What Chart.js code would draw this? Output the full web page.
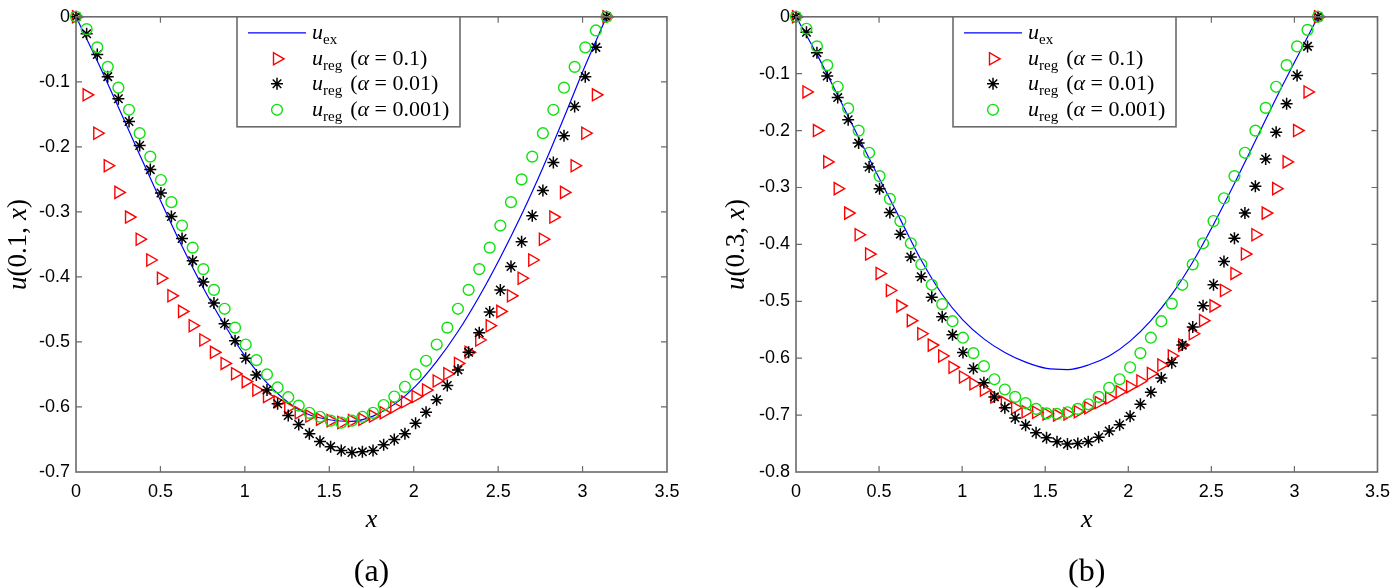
<!DOCTYPE html>
<html lang="en">
<head>
<meta charset="UTF-8">
<title>u_ex vs u_reg</title>
<script src="https://cdn.jsdelivr.net/npm/chart.js"></script>
<style>
  body { margin: 0; background: #fff; }
  canvas { position: absolute; top: 0; }
  #chartA { left: 0; }
  #chartB { left: 720px; }
</style>
</head>
<body>
<canvas id="chartA" width="720" height="588"></canvas>
<canvas id="chartB" width="679" height="588"></canvas>
<script>
// grid of x points (0 .. pi, step pi/50)
const xGrid = [0, 0.063, 0.126, 0.188, 0.251, 0.314, 0.377, 0.440, 0.503, 0.565,
  0.628, 0.691, 0.754, 0.817, 0.880, 0.942, 1.005, 1.068, 1.131, 1.194,
  1.257, 1.319, 1.382, 1.445, 1.508, 1.571, 1.634, 1.696, 1.759, 1.822,
  1.885, 1.948, 2.011, 2.073, 2.136, 2.199, 2.262, 2.325, 2.388, 2.450,
  2.513, 2.576, 2.639, 2.702, 2.765, 2.827, 2.890, 2.953, 3.016, 3.079, 3.142];
// x points for the exact solution line
const xLine = [0, 0.126, 0.251, 0.377, 0.503, 0.628, 0.754, 0.880, 1.005, 1.131,
  1.257, 1.382, 1.508, 1.634, 1.759, 1.885, 2.011, 2.136, 2.262, 2.388,
  2.513, 2.639, 2.765, 2.890, 3.016, 3.142];

const xTicks = [0, 0.5, 1, 1.5, 2, 2.5, 3, 3.5];
const xTickLabels = ['0', '0.5', '1', '1.5', '2', '2.5', '3', '3.5'];
const yTicksA = [-0.7, -0.6, -0.5, -0.4, -0.3, -0.2, -0.1, 0];
const yTickLabelsA = ['-0.7', '-0.6', '-0.5', '-0.4', '-0.3', '-0.2', '-0.1', '0'];
const yTicksB = [-0.8, -0.7, -0.6, -0.5, -0.4, -0.3, -0.2, -0.1, 0];
const yTickLabelsB = ['-0.8', '-0.7', '-0.6', '-0.5', '-0.4', '-0.3', '-0.2', '-0.1', '0'];

const seriesNames = ['u_ex', 'u_reg (α = 0.1)', 'u_reg (α = 0.01)', 'u_reg (α = 0.001)'];

// panel (a): t = 0.1
const exactA = [0, -0.068, -0.139, -0.212, -0.284, -0.353, -0.417, -0.474, -0.523, -0.563,
  -0.593, -0.612, -0.620, -0.622, -0.614, -0.596, -0.568, -0.530, -0.484, -0.430,
  -0.370, -0.304, -0.232, -0.155, -0.075, 0];
const regA1 = [0, -0.120, -0.179, -0.229, -0.270, -0.308, -0.342, -0.374, -0.402, -0.429,
  -0.453, -0.475, -0.497, -0.516, -0.533, -0.549, -0.561, -0.574, -0.584, -0.592,
  -0.601, -0.609, -0.614, -0.619, -0.621, -0.624, -0.621, -0.619, -0.614, -0.609,
  -0.600, -0.592, -0.584, -0.574, -0.560, -0.549, -0.533, -0.516, -0.497, -0.475,
  -0.453, -0.429, -0.402, -0.374, -0.342, -0.308, -0.270, -0.229, -0.179, -0.120, 0];
const regA2 = [0, -0.026, -0.058, -0.092, -0.126, -0.161, -0.198, -0.235, -0.271, -0.307,
  -0.341, -0.375, -0.408, -0.440, -0.472, -0.498, -0.525, -0.551, -0.574, -0.595,
  -0.613, -0.627, -0.641, -0.653, -0.661, -0.667, -0.670, -0.669, -0.667, -0.658,
  -0.650, -0.641, -0.625, -0.608, -0.589, -0.567, -0.543, -0.516, -0.486, -0.454,
  -0.420, -0.384, -0.346, -0.306, -0.267, -0.224, -0.183, -0.138, -0.092, -0.047, 0];
const regA3 = [0, -0.019, -0.047, -0.077, -0.109, -0.143, -0.179, -0.215, -0.251, -0.285,
  -0.321, -0.355, -0.388, -0.420, -0.449, -0.478, -0.504, -0.528, -0.550, -0.570,
  -0.585, -0.598, -0.609, -0.615, -0.621, -0.624, -0.621, -0.615, -0.609, -0.597,
  -0.584, -0.569, -0.550, -0.529, -0.504, -0.478, -0.449, -0.420, -0.388, -0.355,
  -0.321, -0.285, -0.250, -0.215, -0.179, -0.143, -0.109, -0.077, -0.047, -0.021, 0];

// panel (b): t = 0.3
const exactB = [0, -0.066, -0.138, -0.212, -0.285, -0.356, -0.428, -0.488, -0.533, -0.566,
  -0.590, -0.607, -0.618, -0.620, -0.612, -0.596, -0.570, -0.534, -0.488, -0.431,
  -0.365, -0.293, -0.218, -0.143, -0.071, 0];
const regB1 = [0, -0.132, -0.200, -0.255, -0.302, -0.345, -0.383, -0.417, -0.451, -0.481,
  -0.508, -0.534, -0.557, -0.577, -0.596, -0.616, -0.633, -0.645, -0.656, -0.668,
  -0.678, -0.687, -0.694, -0.695, -0.698, -0.700, -0.698, -0.694, -0.687, -0.678,
  -0.670, -0.659, -0.650, -0.640, -0.627, -0.612, -0.596, -0.577, -0.557, -0.534,
  -0.508, -0.481, -0.451, -0.417, -0.383, -0.345, -0.302, -0.255, -0.200, -0.132, 0];
const regB2 = [0, -0.027, -0.063, -0.104, -0.142, -0.181, -0.222, -0.264, -0.302, -0.344,
  -0.382, -0.422, -0.457, -0.493, -0.527, -0.559, -0.590, -0.618, -0.643, -0.668,
  -0.687, -0.705, -0.718, -0.731, -0.740, -0.747, -0.751, -0.750, -0.747, -0.739,
  -0.728, -0.717, -0.702, -0.681, -0.660, -0.635, -0.608, -0.577, -0.545, -0.508,
  -0.471, -0.430, -0.389, -0.345, -0.298, -0.250, -0.203, -0.153, -0.103, -0.052, 0];
const regB3 = [0, -0.021, -0.052, -0.085, -0.123, -0.161, -0.200, -0.239, -0.280, -0.320,
  -0.359, -0.398, -0.435, -0.471, -0.505, -0.535, -0.564, -0.591, -0.614, -0.637,
  -0.655, -0.668, -0.679, -0.689, -0.697, -0.698, -0.695, -0.689, -0.681, -0.668,
  -0.652, -0.637, -0.616, -0.591, -0.564, -0.535, -0.504, -0.471, -0.435, -0.398,
  -0.359, -0.319, -0.280, -0.239, -0.200, -0.160, -0.123, -0.085, -0.052, -0.023, 0];

const FRAME = '#6b6b6b';
const SERIF = '"Liberation Serif", "Times New Roman", serif';
const IT = 'italic 22px ' + SERIF;
const RM = '22px ' + SERIF;
const SUB = '15px ' + SERIF;

function pts(xs, ys) {
  return ys.map((y, i) => ({ x: xs[i], y: y }));
}

// draws a run of differently styled pieces of text, left to right
function drawRuns(ctx, runs, x, y) {
  runs.forEach(r => {
    ctx.font = r[1];
    ctx.fillText(r[0], x, y + (r[2] || 0));
    x += ctx.measureText(r[0]).width + (r[3] || 0);
  });
}
function runsWidth(ctx, runs) {
  let w = 0;
  runs.forEach(r => { ctx.font = r[1]; w += ctx.measureText(r[0]).width + (r[3] || 0); });
  return w;
}

function legendRuns(name) {
  const sub = name.slice(2).split(' ')[0];
  const rest = name.indexOf('(') >= 0 ? name.slice(name.indexOf('(')) : '';
  const runs = [['u', IT], [sub, SUB, 5, 8]];
  if (rest) {
    const val = rest.slice(rest.indexOf('=') + 1, -1).trim();
    runs.push(['(', RM], ['α', IT], [' = ' + val, RM], [')', RM]);
  }
  return runs;
}

const decor = {
  id: 'decor',
  afterDraw(chart, args, o) {
    const { ctx, chartArea: a, scales } = chart;
    ctx.save();

    // box + inward tick marks
    ctx.strokeStyle = FRAME;
    ctx.lineWidth = 1.6;
    ctx.strokeRect(a.left, a.top, a.right - a.left, a.bottom - a.top);
    ctx.lineWidth = 1.2;
    ctx.beginPath();
    xTicks.forEach(v => {
      const p = scales.x.getPixelForValue(v);
      if (p <= a.left + 1 || p >= a.right - 1) return;
      ctx.moveTo(p, a.bottom); ctx.lineTo(p, a.bottom - 6);
      ctx.moveTo(p, a.top); ctx.lineTo(p, a.top + 6);
    });
    o.yTicks.forEach(v => {
      const p = scales.y.getPixelForValue(v);
      if (p <= a.top + 1 || p >= a.bottom - 1) return;
      ctx.moveTo(a.left, p); ctx.lineTo(a.left + 6, p);
      ctx.moveTo(a.right, p); ctx.lineTo(a.right - 6, p);
    });
    ctx.stroke();

    // legend
    const lx = a.left + o.legendLeft, ly = a.top, lw = 223, lh = 110;
    ctx.fillStyle = '#fff';
    ctx.fillRect(lx, ly, lw, lh);
    ctx.strokeStyle = FRAME;
    ctx.lineWidth = 1.6;
    ctx.strokeRect(lx, ly, lw, lh);
    const rows = [16, 42, 67, 93];
    chart.data.datasets.forEach((ds, i) => {
      const ry = ly + rows[i];
      ctx.strokeStyle = ds.borderColor;
      ctx.fillStyle = 'rgba(0,0,0,0)';
      ctx.lineWidth = ds.borderWidth;
      if (ds.showLine) {
        ctx.beginPath();
        ctx.moveTo(lx + 11, ry); ctx.lineTo(lx + 69, ry);
        ctx.stroke();
      } else {
        Chart.helpers.drawPoint(ctx, {
          pointStyle: ds.pointStyle, rotation: ds.pointRotation || 0,
          radius: ds.pointRadius, borderWidth: ds.borderWidth
        }, lx + 40, ry);
      }
      ctx.fillStyle = '#000';
      ctx.textBaseline = 'alphabetic';
      drawRuns(ctx, legendRuns(ds.label), lx + 75, ry + 6);
    });

    // axis titles and caption
    const cx = (a.left + a.right) / 2;
    ctx.fillStyle = '#000';
    ctx.textBaseline = 'alphabetic';
    ctx.font = 'italic 26px ' + SERIF;
    ctx.textAlign = 'center';
    ctx.fillText('x', cx, 527);
    ctx.font = '32px ' + SERIF;
    ctx.fillText(o.caption, cx, 581);

    ctx.textAlign = 'left';
    const yl = [['u', 'italic 27px ' + SERIF], ['(' + o.tval + ',', '27px ' + SERIF, 0, 7], ['x', 'italic 27px ' + SERIF], [')', '27px ' + SERIF]];
    ctx.translate(o.ylabelX, (a.top + a.bottom) / 2);
    ctx.rotate(-Math.PI / 2);
    drawRuns(ctx, yl, -runsWidth(ctx, yl) / 2, 9);
    ctx.restore();
  }
};

function makeChart(id, exact, r1, r2, r3, yTicks, yLabels, o, padRight) {
  const ctx = document.getElementById(id).getContext('2d');
  return new Chart(ctx, {
    type: 'scatter',
    data: {
      datasets: [
        { label: seriesNames[0], data: pts(xLine, exact), showLine: true, borderColor: '#0000ff',
          borderWidth: 1.2, pointRadius: 0, cubicInterpolationMode: 'monotone', order: 4, clip: false },
        { label: seriesNames[1], data: pts(xGrid, r1), borderColor: '#ff0000', backgroundColor: 'rgba(0,0,0,0)',
          pointStyle: 'triangle', pointRotation: 90, pointRadius: 7, borderWidth: 1.4, order: 3, clip: false },
        { label: seriesNames[2], data: pts(xGrid, r2), borderColor: '#000000', backgroundColor: 'rgba(0,0,0,0)',
          pointStyle: 'star', pointRadius: 6, borderWidth: 1.5, order: 2, clip: false },
        { label: seriesNames[3], data: pts(xGrid, r3), borderColor: '#11e011', backgroundColor: 'rgba(0,0,0,0)',
          pointStyle: 'circle', pointRadius: 5.4, borderWidth: 1.4, order: 1, clip: false }
      ]
    },
    options: {
      responsive: false,
      animation: false,
      devicePixelRatio: 1,
      layout: { padding: { top: 8, right: padRight, left: 0, bottom: 0 } },
      plugins: { legend: { display: false }, tooltip: { enabled: false }, decor: o },
      scales: {
        x: {
          type: 'linear', min: 0, max: 3.5,
          afterBuildTicks: s => { s.ticks = xTicks.map(v => ({ value: v })); },
          afterFit: s => { s.height = 116; },
          ticks: { callback: (v, i) => xTickLabels[i], font: { family: 'Liberation Sans', size: 18 },
            color: '#000', padding: 9, maxRotation: 0, autoSkip: false },
          grid: { display: false, drawTicks: false },
          border: { display: false }
        },
        y: {
          type: 'linear', min: yTicks[0], max: 0,
          afterBuildTicks: s => { s.ticks = yTicks.map(v => ({ value: v })); },
          afterFit: s => { s.width = 76; },
          ticks: { callback: (v, i) => yLabels[i], font: { family: 'Liberation Sans', size: 18 },
            color: '#000', padding: 6, autoSkip: false },
          grid: { display: false, drawTicks: false },
          border: { display: false }
        }
      }
    },
    plugins: [decor]
  });
}

makeChart('chartA', exactA, regA1, regA2, regA3, yTicksA, yTickLabelsA,
  { yTicks: yTicksA, legendLeft: 161, caption: '(a)', tval: '0.1', ylabelX: 17 }, 53);
makeChart('chartB', exactB, regB1, regB2, regB3, yTicksB, yTickLabelsB,
  { yTicks: yTicksB, legendLeft: 157, caption: '(b)', tval: '0.3', ylabelX: 15 }, 12);
</script>
</body>
</html>
